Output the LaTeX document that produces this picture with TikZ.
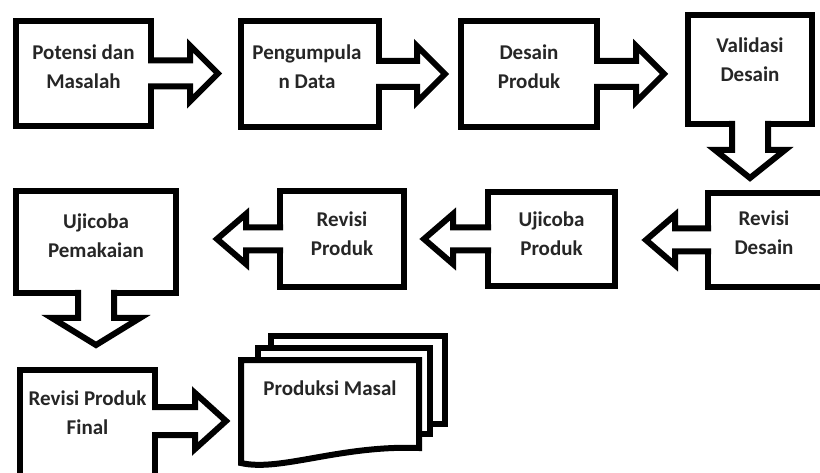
\documentclass[tikz,border=0pt]{standalone}
\usepackage{fontspec}
\setmainfont{Carlito}
\usetikzlibrary{calc}
\tikzset{
  boxnode/.style={draw, line width=6pt, fill=white, inner sep=0pt, outer sep=0pt, line join=miter},
  barrow/.style={draw, line width=6pt, fill=white, line join=miter},
  lbl/.style={font=\fontsize{21}{29}\selectfont\bfseries, text=black!85, align=center, inner sep=0pt},
  docsheet/.style={draw, line width=6pt, fill=white, line join=miter},
}
% #1 start, #2 rotation, #3 shaft half width, #4 shaft length, #5 head half width, #6 head length
\newcommand{\blockarrow}[6]{%
  \begin{scope}[shift={#1}, rotate=#2]
    \draw[barrow] (-3,-#3) -- (#4,-#3) -- (#4,-#5) -- (#4+#6,0) -- (#4,#5) -- (#4,#3) -- (-3,#3);
  \end{scope}}
\begin{document}
\begin{tikzpicture}[x=1pt,y=-1pt]
\useasboundingbox (0,0) rectangle (820,473);
\clip (0,0) rectangle (820,473);
\fill[white] (0,0) rectangle (820,473);

% boxes
\node[boxnode, minimum width=135pt, minimum height=105pt] (b1) at (83.5,73.5) {};
\node[boxnode, minimum width=138pt, minimum height=106pt] (b2) at (310,74) {};
\node[boxnode, minimum width=136pt, minimum height=106pt] (b3) at (529,74) {};
\node[boxnode, minimum width=124pt, minimum height=109pt] (b4) at (750,69.5) {};
\node[boxnode, minimum width=118pt, minimum height=94pt] (b5) at (767,240) {};
\node[boxnode, minimum width=127pt, minimum height=94pt] (b6) at (551.5,239) {};
\node[boxnode, minimum width=124pt, minimum height=96pt] (b7) at (342,239) {};
\node[boxnode, minimum width=160pt, minimum height=102pt] (b8) at (96,242) {};
\node[boxnode, minimum width=135pt, minimum height=112pt] (b9) at (87.5,426) {};

% labels
\node[lbl] (t1) at ($(b1.center)+(0,-7)$) {Potensi dan\\Masalah};
\node[lbl] (t2) at ($(b2.center)+(-3,-7.5)$) {Pengumpula\\n Data};
\node[lbl] (t3) at ($(b3.center)+(0,-7.5)$) {Desain\\Produk};
\node[lbl] (t4) at ($(b4.center)+(0,-10)$) {Validasi\\Desain};
\node[lbl] (t5) at ($(b5.center)+(-3,-7)$) {Revisi\\Desain};
\node[lbl] (t6) at ($(b6.center)+(0,-5)$) {Ujicoba\\Produk};
\node[lbl] (t7) at ($(b7.center)+(0,-5)$) {Revisi\\Produk};
\node[lbl] (t8) at ($(b8.center)+(0,-6)$) {Ujicoba\\Pemakaian};
\node[lbl] (t9) at ($(b9.center)+(0,-13)$) {Revisi Produk\\Final};

% block arrows
\blockarrow{(b1.east)}{0}{13}{39}{28}{28}
\blockarrow{(b2.east)}{0}{13}{38}{28}{28}
\blockarrow{(b3.east)}{0}{13}{39}{28}{28}
\blockarrow{(b4.south)}{-90}{18}{26}{35}{28}
\blockarrow{(b5.west)}{180}{11.5}{33}{25}{29}
\blockarrow{(b6.west)}{180}{11.5}{35}{25}{29}
\blockarrow{(b7.west)}{180}{11.5}{34}{25}{29}
\blockarrow{(b8.south)}{-90}{18}{25}{44}{27}
\blockarrow{($(b9.east)+(0,-5)$)}{0}{14}{40}{28}{31}

% multi-document
\draw[docsheet] (271,336) rectangle (445,424);
\draw[docsheet] (258,348) rectangle (430,434);
\draw[docsheet] (241,360) -- (419,360) -- (419,448) .. controls (340,445) and (280,472) .. (241,463) -- cycle;
\node[lbl] (doc) at (330,388) {Produksi Masal};
\end{tikzpicture}
\end{document}
